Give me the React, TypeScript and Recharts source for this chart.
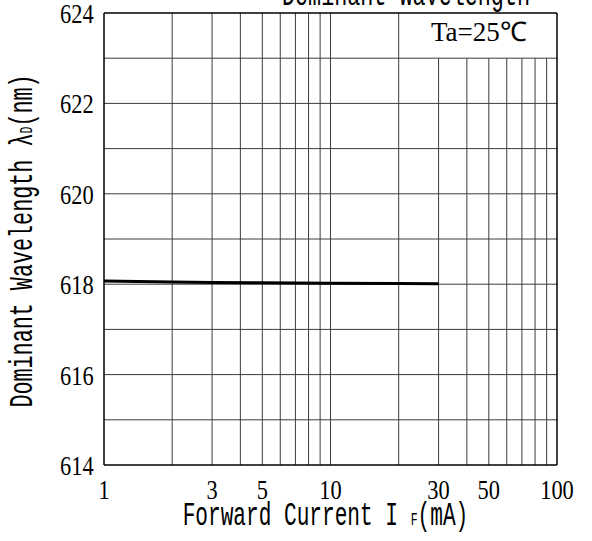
import React from 'react';
import { LineChart, Line, XAxis, YAxis, ReferenceLine, Label } from 'recharts';

// forward current (mA) vs dominant wavelength (nm), Ta = 25°C
const current = [1, 2, 3, 5, 10, 20, 30];
const wavelength = [618.07, 618.05, 618.04, 618.03, 618.02, 618.015, 618.01];

const xTicks = [1, 3, 5, 10, 30, 50, 100];
const yTicks = [614, 616, 618, 620, 622, 624];

// log grid: lines right of 20 stop under the Ta box
const xGridFull = [2, 3, 4, 5, 6, 7, 8, 9, 10, 20];
const xGridShort = [30, 40, 50, 60, 70, 80, 90];
const yGrid = [615, 616, 617, 618, 619, 620, 621, 622, 623];

const data = current.map((c, i) => ({ current: c, wl: wavelength[i] }));

const MONO = '"Liberation Mono", monospace';
const SERIF = '"Liberation Serif", serif';
const gridColor = '#3c3c3c';

function XTick({ x, y, payload }: any) {
  return (
    <g transform={`translate(${x},${y})`}>
      <text transform="scale(0.8,1)" textAnchor="middle" y={26} fontFamily={SERIF} fontSize={28} fill="#000">
        {payload.value}
      </text>
    </g>
  );
}

function YTick({ x, y, payload }: any) {
  return (
    <g transform={`translate(${x},${y})`}>
      <text transform="scale(0.8,1)" textAnchor="end" x={-3} y={10} fontFamily={SERIF} fontSize={28} fill="#000">
        {payload.value}
      </text>
    </g>
  );
}

export default function App() {
  return (
    <div style={{ position: 'absolute', left: 0, top: 0, background: '#fff' }}>
      <LineChart width={592} height={541} data={data} margin={{ top: 13, right: 35, bottom: 0, left: 0 }}>
        <XAxis
          dataKey="current"
          type="number"
          scale="log"
          domain={[1, 100]}
          ticks={xTicks}
          axisLine={false}
          tickLine={false}
          height={76}
          tick={<XTick />}
          interval={0}
        >
          <Label
            content={({ viewBox }: any) => (
              <text
                transform={`translate(${viewBox.x + viewBox.width / 2 - 5},${viewBox.y + 60}) scale(0.64,1)`}
                textAnchor="middle"
                fontFamily={MONO}
                fontSize={33}
                fill="#000"
              >
                Forward Current I <tspan fontSize={18}>F</tspan>(mA)
              </text>
            )}
          />
        </XAxis>
        <YAxis
          type="number"
          domain={[614, 624]}
          ticks={yTicks}
          axisLine={false}
          tickLine={false}
          width={104}
          tick={<YTick />}
          interval={0}
        >
          <Label
            content={({ viewBox }: any) => (
              <text
                transform={`translate(32,${viewBox.y + viewBox.height / 2 + 2}) rotate(-90) scale(0.64,1)`}
                textAnchor="middle"
                fontFamily={MONO}
                fontSize={34}
                fill="#000"
              >
                Dominant Wavelength λ<tspan fontSize={18}>D</tspan>(nm)
              </text>
            )}
          />
        </YAxis>

        {yGrid.map((v) => (
          <ReferenceLine key={`h${v}`} y={v} stroke={gridColor} strokeWidth={1} />
        ))}
        {xGridFull.map((v) => (
          <ReferenceLine key={`vf${v}`} x={v} stroke={gridColor} strokeWidth={1} />
        ))}
        {xGridShort.map((v) => (
          <ReferenceLine
            key={`vs${v}`}
            segment={[{ x: v, y: 614 }, { x: v, y: 623 }]}
            stroke={gridColor}
            strokeWidth={1}
          />
        ))}

        <ReferenceLine y={614} stroke="#000" strokeWidth={1.5} />
        <ReferenceLine y={624} stroke="#000" strokeWidth={1.5} />
        <ReferenceLine x={1} stroke="#000" strokeWidth={1.5} />
        <ReferenceLine x={100} stroke="#000" strokeWidth={1.5} />

        <ReferenceLine segment={[{ x: 20, y: 623.5 }, { x: 100, y: 623.5 }]} stroke="none">
          <Label
            content={({ viewBox }: any) => (
              <text
                x={viewBox.x + viewBox.width / 2 + 1}
                y={viewBox.y + 5}
                textAnchor="middle"
                fontFamily={SERIF}
                fontSize={27}
                fill="#000"
              >
                Ta=25℃
              </text>
            )}
          />
        </ReferenceLine>

        <Line
          type="linear"
          dataKey="wl"
          stroke="#000"
          strokeWidth={3}
          dot={false}
          isAnimationActive={false}
        />

        <text x={406} y={5} textAnchor="middle" transform="translate(406,0) scale(0.64,1) translate(-406,0)" fontFamily={MONO} fontSize={34} fill="#000">
          Dominant Wavelength
        </text>
      </LineChart>
    </div>
  );
}
